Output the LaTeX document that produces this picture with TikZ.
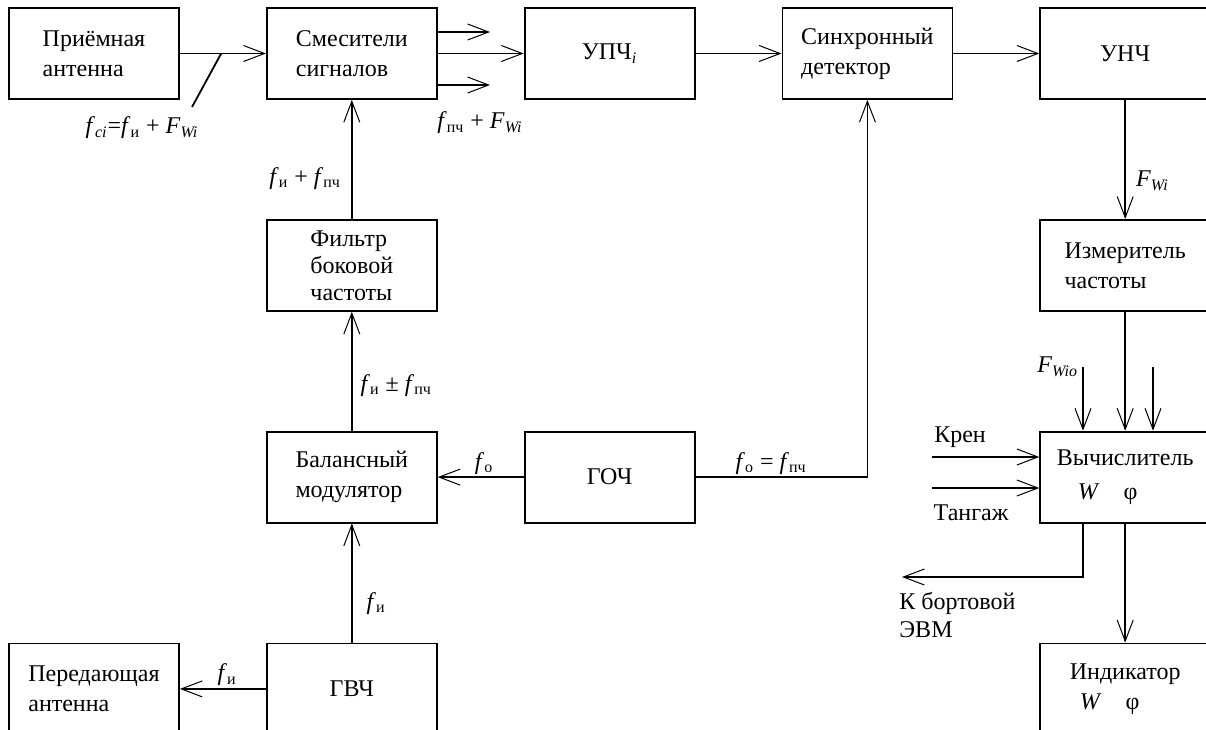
\documentclass[tikz,border=0pt]{standalone}
\usepackage{fontspec}
\setmainfont{Liberation Serif}
\usetikzlibrary{arrows.meta,positioning}
\newcommand{\fq}[1]{\textit{f}\textsubscript{#1}}
\newcommand{\Fq}[1]{\textit{F}\textsubscript{\textit{#1}}}

\begin{document}
\begin{tikzpicture}[
  x=0.5pt, y=-0.5pt,
  node distance=59.5pt and 43pt,
  box/.style={rectangle, draw, line width=0.9pt, minimum width=85pt, minimum height=45.5pt, inner sep=0pt, align=left, font=\fontsize{12}{15}\selectfont},
  lbl/.style={inner sep=1pt, font=\fontsize{12}{14}\selectfont},
  arrow/.style={-{Straight Barb[length=10.5pt, width=8pt, line width=0.5pt]}, line width=0.9pt},
  line/.style={line width=0.9pt}
]
  \useasboundingbox (0,0) rectangle (1206,729);
  % Row 1: receive path
  \node[box] (ant) at (94,53.5) {Приёмная\\антенна};
  \node[box, right=of ant] (mix) {Смесители\\сигналов};
  \node[box, right=of mix] (upch) {УПЧ\textsubscript{\textit{i}}};
  \node[box, right=of upch] (sync) {Синхронный\\детектор};
  \node[box, right=of sync] (unch) {УНЧ};
  % Left column: reference channel
  \node[box, below=of mix, font=\fontsize{12}{13.5}\selectfont] (filt) {Фильтр\\боковой\\частоты};
  \node[box, below=of filt] (bal) {Балансный\\модулятор};
  \node[box, right=of bal] (goch) {ГОЧ};
  \node[box, below=of bal] (gvch) {ГВЧ};
  \node[box, left=of gvch] (tx) {Передающая\\антенна};
  % Right column: processing
  \node[box, below=of unch] (izm) {Измеритель\\частоты};
  \node[box, below=of izm] (comp) {Вычислитель\\[2pt]\hspace*{10.5pt}\textit{W}\hspace{12pt}φ};
  \node[box, below=of comp] (ind) {Индикатор\\\hspace*{5pt}\textit{W}\hspace{12pt}φ};
  % Free ends
  \coordinate (fcitick) at (192,107);
  \coordinate (out1) at (490,32);
  \coordinate (out3) at (490,85);
  \coordinate (in1) at (1083,367);
  \coordinate (in3) at (1153,367);
  \coordinate (kren) at (932,457);
  \coordinate (tang) at (932,488);
  \coordinate (evm) at (902,577);
  % Arrows, top row
  \draw[arrow] (ant) -- coordinate[pos=0.48] (tap) (mix);
  \draw[line] (tap) -- (fcitick);
  \node[lbl] (fci) at (142,128) {\fq{\textit{ci}}=\fq{и} + \Fq{Wi}};
  \draw[arrow] (mix.east |- out1) -- (out1);
  \draw[arrow] (mix) -- (upch);
  \draw[arrow] (mix.east |- out3) -- (out3);
  \node[lbl] (fpch) at (480,123) {\fq{пч} + \Fq{Wi}};
  \draw[arrow] (upch) -- (sync);
  \draw[arrow] (sync) -- (unch);
  % Arrows, right column
  \draw[arrow] (unch) -- node[lbl, right=4pt, pos=0.68] {\Fq{Wi}} (izm);
  \draw[arrow] (izm) -- (comp);
  \draw[arrow] (in1) node[lbl, left=1pt] {\Fq{Wio}} -- (in1 |- comp.north);
  \draw[arrow] (in3) -- (in3 |- comp.north);
  \draw[arrow] (kren) -- (kren -| comp.west);
  \draw[arrow] (tang) -- (tang -| comp.west);
  \node[lbl] (krenlbl) at (960,437) {Крен};
  \node[lbl] (tanglbl) at (971,513) {Тангаж};
  \draw[arrow] (in1 |- comp.south) |- (evm);
  \node[lbl, align=left, anchor=west] (evmlbl) at (897,615) {К бортовой\\ЭВМ};
  \draw[arrow] (comp) -- (ind);
  % Arrows, left column
  \draw[arrow] (goch) -- node[lbl, above, pos=0.46] {\fq{о}} (bal);
  \draw[arrow] (goch) -| node[lbl, above, pos=0.22] {\fq{о} = \fq{пч}} (sync);
  \draw[arrow] (bal) -- node[lbl, right=3pt, pos=0.38] {\fq{и} ± \fq{пч}} (filt);
  \draw[arrow] (filt) -- node[lbl, left=4pt, pos=0.34] {\fq{и} + \fq{пч}} (mix);
  \draw[arrow] (gvch) -- node[lbl, right=6pt, pos=0.33] {\fq{и}} (bal);
  \draw[arrow] (gvch) -- node[lbl, above, pos=0.45] {\fq{и}} (tx);
\end{tikzpicture}
\end{document}
